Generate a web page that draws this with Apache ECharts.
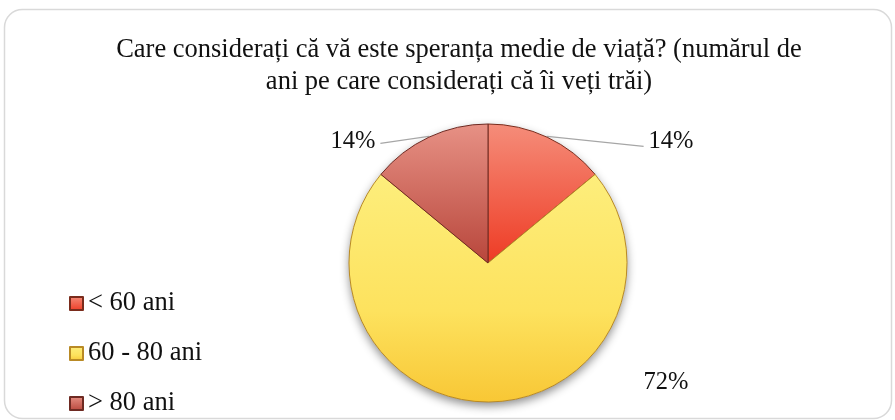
<!DOCTYPE html>
<html>
<head>
<meta charset="utf-8">
<script src="https://cdn.jsdelivr.net/npm/echarts@6/dist/echarts.min.js"></script>
<style>
  html, body { margin: 0; padding: 0; background: #ffffff; }
  #chart { width: 895px; height: 420px; }
</style>
</head>
<body>
<div id="chart"></div>
<script>
// Answer categories and their shares (percent of respondents)
const categories = ['< 60 ani', '60 - 80 ani', '> 80 ani'];
const shares = [14, 72, 14];
const titleText = 'Care considerați că vă este speranța medie de viață? (numărul de\nani pe care considerați că îi veți trăi)';

const serif = '"Liberation Serif", "Times New Roman", serif';

// Slice fills: bevelled red, yellow and muted red
const fills = [
  { type: 'linear', x: 0, y: 0, x2: 0, y2: 1, colorStops: [
    { offset: 0, color: '#f58d7a' }, { offset: 1, color: '#ee3b24' } ] },
  { type: 'linear', x: 0, y: 0, x2: 0, y2: 1, colorStops: [
    { offset: 0, color: '#fdee7c' }, { offset: 0.6, color: '#fde25e' }, { offset: 1, color: '#f8c735' } ] },
  { type: 'linear', x: 0, y: 0, x2: 0, y2: 1, colorStops: [
    { offset: 0, color: '#e79185' }, { offset: 1, color: '#b8463b' } ] }
];
const borders = ['#7a2c1c', '#b98a25', '#6e2a22'];

// Label-line lengths per slice (right label sits further out than the left one)
const lineLen2 = [96, 0, 48];
// How far each leader line drops towards its label
const lineDrop = [10, 0, 7];

const chart = echarts.init(document.getElementById('chart'), null, { renderer: 'canvas' });

const pieData = categories.map((name, i) => ({
  name: name,
  value: shares[i],
  itemStyle: { color: fills[i], borderColor: borders[i], borderWidth: 1 },
  label: { show: true },
  labelLine: i === 1 ? { show: false } : { show: true, length: 1, length2: lineLen2[i] }
}));

const option = {
  backgroundColor: '#ffffff',
  animation: false,
  graphic: [{
    type: 'rect',
    shape: { x: 4.5, y: 9.5, width: 887, height: 409, r: 18 },
    style: { fill: 'none', stroke: '#d9d9d9', lineWidth: 1.5 },
    silent: true,
    z: -10
  }],
  title: {
    text: titleText,
    left: 454,
    top: 29,
    textAlign: 'center',
    textStyle: {
      fontFamily: serif,
      fontSize: 26.5,
      fontWeight: 'normal',
      color: '#111111',
      lineHeight: 32
    }
  },
  legend: {
    orient: 'vertical',
    left: 64,
    top: 285,
    height: 200,
    itemWidth: 13,
    itemHeight: 13,
    itemGap: 23,
    icon: 'rect',
    data: categories,
    textStyle: { fontFamily: serif, fontSize: 26.5, color: '#111111' }
  },
  series: [
    {
      // soft drop shadow under the whole pie
      type: 'pie',
      silent: true,
      center: [488, 263],
      radius: 139,
      label: { show: false },
      labelLine: { show: false },
      itemStyle: {
        color: '#ffffff',
        shadowBlur: 10,
        shadowColor: 'rgba(0,0,0,0.45)',
        shadowOffsetY: 4
      },
      data: [{ name: 'shadow', value: 1 }],
      z: 1
    },
    {
      type: 'pie',
      center: [488, 263],
      radius: 139,
      startAngle: 90,
      clockwise: true,
      avoidLabelOverlap: false,
      label: {
        position: 'outside',
        formatter: '{c}%',
        fontFamily: serif,
        fontSize: 24.5,
        color: '#111111',
        distanceToLabelLine: 5
      },
      labelLine: {
        lineStyle: { color: '#a6a6a6', width: 1.2 }
      },
      labelLayout: function (params) {
        const i = params.dataIndex;
        if (i === 1) {
          // 72% sits off to the lower right of the pie
          return { x: 666, y: 383, align: 'center', verticalAlign: 'middle' };
        }
        const pts = params.labelLinePoints;
        if (!pts) return { dy: 5 };
        return {
          dy: 5,
          labelLinePoints: [pts[0], pts[1], [pts[2][0], pts[2][1] + lineDrop[i]]]
        };
      },
      emphasis: { disabled: true },
      data: pieData,
      z: 2
    }
  ]
};

chart.setOption(option);
</script>
</body>
</html>
